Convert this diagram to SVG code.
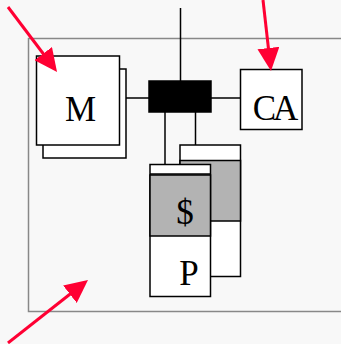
<svg xmlns="http://www.w3.org/2000/svg" width="341" height="344" viewBox="0 0 341 344">
<defs>
<style>
.box{fill:#fff;stroke:#000;stroke-width:1.5}
.gray{fill:#b3b3b3;stroke:#000;stroke-width:1.5}
.ln{stroke:#000;stroke-width:1.5;fill:none}
.arr{stroke:#ff0033;stroke-width:3;fill:none;marker-end:url(#ah)}
.lbl{font-family:"Liberation Serif",serif;font-size:35px;fill:#000;text-anchor:middle}
</style>
<marker id="ah" markerUnits="userSpaceOnUse" markerWidth="23" markerHeight="22" refX="8" refY="11" orient="auto">
<path d="M0,0 L23,11 L0,22 z" fill="#ff0033"/>
</marker>
</defs>
<rect x="0" y="0" width="341" height="344" fill="#f8f8f8"/>
<rect id="frame" x="28.5" y="38.5" width="320" height="273" fill="none" stroke="#888" stroke-width="1.5"/>
<g id="connectors">
<line class="ln" x1="180.5" y1="8" x2="180.5" y2="81"/>
<line class="ln" x1="119.5" y1="98" x2="149" y2="98"/>
<line class="ln" x1="211" y1="98" x2="240.5" y2="98"/>
<line class="ln" x1="195.5" y1="112" x2="195.5" y2="145"/>
<line class="ln" x1="165" y1="112" x2="165" y2="165"/>
</g>
<g id="node-M">
<rect class="box" x="43" y="69" width="83" height="89"/>
<rect class="box" x="36.5" y="56" width="83" height="89"/>
<text class="lbl" x="80.5" y="120.5">M</text>
</g>
<g id="node-bus">
<rect x="149" y="81" width="62" height="31" fill="#000" stroke="#000" stroke-width="1.5"/>
</g>
<g id="node-CA">
<rect class="box" x="240.5" y="69.5" width="61.5" height="60"/>
<text class="lbl" x="274" y="119.5" letter-spacing="-3">CA</text>
</g>
<g id="node-stack-back">
<rect class="box" x="180" y="145" width="60.5" height="131.5"/>
<rect class="gray" x="180" y="160.5" width="60.5" height="60.5"/>
</g>
<g id="node-stack-front">
<rect class="box" x="150" y="164.5" width="60.5" height="132"/>
<line class="ln" x1="150" y1="174" x2="210.5" y2="174"/>
<rect class="gray" x="150" y="175" width="60.5" height="61"/>
<text class="lbl" x="185" y="224">$</text>
<text class="lbl" x="189" y="285">P</text>
</g>
<g id="arrows">
<line class="arr" x1="8" y1="7" x2="48" y2="60"/>
<line class="arr" x1="263" y1="0" x2="269.3" y2="56"/>
<line class="arr" x1="8" y1="343" x2="76.2" y2="289.3"/>
</g>
</svg>
